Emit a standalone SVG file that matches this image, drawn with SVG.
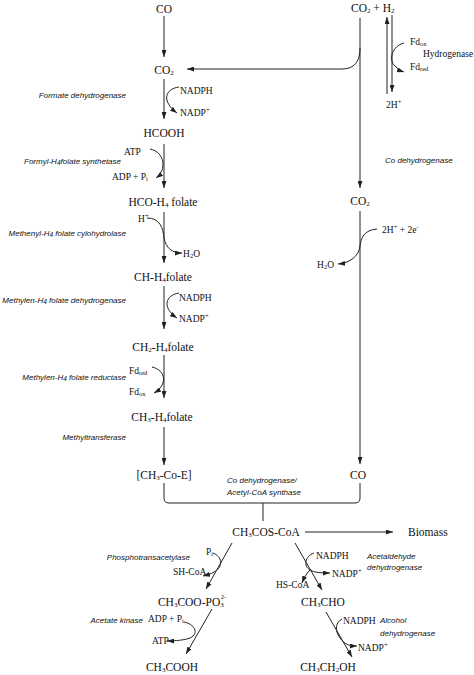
<svg xmlns="http://www.w3.org/2000/svg" width="474" height="675" viewBox="0 0 474 675">
<style>
text{font-family:"Liberation Serif","Times New Roman",serif;fill:#111}
.c{font-size:11.5px}
.f{font-size:9.5px}
.e{font-family:"Liberation Sans",Arial,sans-serif;font-style:italic;font-size:8px}
.s{font-size:7px}
.p{font-size:6.5px}
.k{fill:none;stroke:#222;stroke-width:1}
</style>
<defs>
<marker id="a" markerUnits="userSpaceOnUse" markerWidth="7" markerHeight="5" refX="7" refY="2.5" orient="auto">
<path d="M0,0 L7,2.5 L0,5 z" fill="#222"/>
</marker>
</defs>
<rect width="474" height="675" fill="#fff"/>
<g id="connectors" class="k" marker-end="url(#a)">
<path d="M164,16 L164,57"/>
<path d="M164,79 L164,119"/>
<path d="M179,87 C165,89 161,101 177,113"/>
<path d="M164,144 L164,188"/>
<path d="M150,149 C165,152 167,170 156,178"/>
<path d="M164,212 L164,263"/>
<path d="M147,218 C160,218 163,228 164,238 C166,248 172,253 182,253"/>
<path d="M164,286 L164,329"/>
<path d="M179,293 C166,295 161,307 177,318"/>
<path d="M164,355 L164,398"/>
<path d="M152,367 C166,370 168,385 154,393"/>
<path d="M164,427 L164,465"/>
<path d="M360,18 L360,188"/>
<path d="M360,48 C360,62 354,69 342,69 L187,69"/>
<path d="M387,94 L387,17"/>
<path d="M392,15 L392,92"/>
<path d="M404,43 C392,46 388,60 395,66 C398,69 401,71 404,72"/>
<path d="M360,211 L360,464"/>
<path d="M377,229 C364,230 361,238 360,246 C359,256 350,263 338,264"/>
<path d="M164,483 L164,498 Q164,503 169,503 L355,503 Q360,503 360,498 L360,483" marker-end="none"/>
<path d="M263,503 L263,521" marker-end="none"/>
<path d="M305,532 L393,532"/>
<path d="M232,543 L206,589"/>
<path d="M213,553 C222,556 224,567 214,572 C211,574 207,575 203,576"/>
<path d="M212,609 L186,654"/>
<path d="M184,622 C194,624 200,633 190,638 C185,640 175,641 167,641"/>
<path d="M295,543 L322,590"/>
<path d="M314,553 C305,556 303,566 310,570 C315,573 322,573 330,573"/>
<path d="M310,570 C306,574 304,578 302,583"/>
<path d="M326,612 L352,657"/>
<path d="M342,619 C336,622 334,630 340,638 C345,645 350,646 357,646"/>
</g>
<g id="n-co"><text class="c" x="164" y="13" text-anchor="middle">CO</text></g>
<g id="n-co2"><text class="c" x="164" y="74" text-anchor="middle">CO<tspan class="s" dy="1">2</tspan></text></g>
<g id="n-fdh">
<text class="e" x="126" y="98" text-anchor="end">Formate dehydrogenase</text>
<text class="f" x="180" y="94">NADPH</text>
<text class="f" x="180" y="116">NADP<tspan class="p" dy="-4">+</tspan></text>
</g>
<g id="n-hcooh"><text class="c" x="164" y="137" text-anchor="middle">HCOOH</text></g>
<g id="n-fths">
<text class="e" x="121" y="164" text-anchor="end">Formyl-H<tspan class="p" dy="1">4</tspan><tspan dy="-1">folate synthetase</tspan></text>
<text class="f" x="124" y="155">ATP</text>
<text class="f" x="112" y="180">ADP + P<tspan class="p" dy="1">i</tspan></text>
</g>
<g id="n-hco"><text class="c" x="163" y="206" text-anchor="middle">HCO-H<tspan class="s" dy="1">4</tspan><tspan dy="-1"> folate</tspan></text></g>
<g id="n-mch">
<text class="e" x="126" y="236" text-anchor="end">Methenyl-H<tspan class="p" dy="1">4</tspan><tspan dy="-1"> folate cylohydrolase</tspan></text>
<text class="f" x="138" y="222">H<tspan class="p" dy="-4">+</tspan></text>
<text class="f" x="183" y="257">H<tspan class="p" dy="1">2</tspan><tspan dy="-1">O</tspan></text>
</g>
<g id="n-ch"><text class="c" x="163" y="281" text-anchor="middle">CH-H<tspan class="s" dy="1">4</tspan><tspan dy="-1">folate</tspan></text></g>
<g id="n-mtd">
<text class="e" x="126" y="303" text-anchor="end">Methylen-H<tspan class="p" dy="1">4</tspan><tspan dy="-1"> folate dehydrogenase</tspan></text>
<text class="f" x="179" y="301">NADPH</text>
<text class="f" x="179" y="322">NADP<tspan class="p" dy="-4">+</tspan></text>
</g>
<g id="n-ch2"><text class="c" x="163" y="351" text-anchor="middle">CH<tspan class="s" dy="1">2</tspan><tspan dy="-1">-H</tspan><tspan class="s" dy="1">4</tspan><tspan dy="-1">folate</tspan></text></g>
<g id="n-mtr">
<text class="e" x="126" y="380" text-anchor="end">Methylen-H<tspan class="p" dy="1">4</tspan><tspan dy="-1"> folate reductase</tspan></text>
<text class="f" x="129" y="374">Fd<tspan class="p" dy="1">red</tspan></text>
<text class="f" x="129" y="395">Fd<tspan class="p" dy="1">ox</tspan></text>
</g>
<g id="n-ch3"><text class="c" x="162" y="421" text-anchor="middle">CH<tspan class="s" dy="1">3</tspan><tspan dy="-1">-H</tspan><tspan class="s" dy="1">4</tspan><tspan dy="-1">folate</tspan></text></g>
<g id="n-mt"><text class="e" x="126" y="440" text-anchor="end">Methyltransferase</text></g>
<g id="n-coe"><text class="c" x="164" y="479" text-anchor="middle">[CH<tspan class="s" dy="1">3</tspan><tspan dy="-1">-Co-E]</tspan></text></g>
<g id="n-co2h2"><text class="c" x="351" y="12">CO<tspan class="s" dy="1">2</tspan><tspan dy="-1"> + H</tspan><tspan class="s" dy="1">2</tspan></text></g>
<g id="n-hyd">
<text class="f" x="410" y="45">Fd<tspan class="p" dy="1">ox</tspan></text>
<text class="f" x="423" y="57" font-size="10px">Hydrogenase</text>
<text class="f" x="410" y="70">Fd<tspan class="p" dy="1">red</tspan></text>
<text class="f" x="386" y="108">2H<tspan class="p" dy="-4">+</tspan></text>
</g>
<g id="n-codh"><text class="e" x="385" y="163">Co dehydrogenase</text></g>
<g id="n-co2r"><text class="c" x="360" y="205" text-anchor="middle">CO<tspan class="s" dy="1">2</tspan></text></g>
<g id="n-h2o">
<text class="f" x="382" y="233">2H<tspan class="p" dy="-4">+</tspan><tspan dy="4"> + 2e</tspan><tspan class="p" dy="-4">-</tspan></text>
<text class="f" x="317" y="268">H<tspan class="p" dy="1">2</tspan><tspan dy="-1">O</tspan></text>
</g>
<g id="n-cor"><text class="c" x="358" y="479" text-anchor="middle">CO</text></g>
<g id="n-acs">
<text class="e" x="227" y="483">Co dehydrogenase/</text>
<text class="e" x="227" y="495">Acetyl-CoA synthase</text>
</g>
<g id="n-accoa"><text class="c" x="266" y="536" text-anchor="middle">CH<tspan class="s" dy="1">3</tspan><tspan dy="-1">COS-CoA</tspan></text></g>
<g id="n-bio"><text class="c" x="408" y="536">Biomass</text></g>
<g id="n-pta">
<text class="e" x="190" y="560" text-anchor="end">Phosphotransacetylase</text>
<text class="f" x="206" y="555">P<tspan class="p" dy="1">i</tspan></text>
<text class="f" x="173" y="575">SH-CoA</text>
</g>
<g id="n-acp"><text class="c" x="192" y="606" text-anchor="middle">CH<tspan class="s" dy="1">3</tspan><tspan dy="-1">COO-PO</tspan><tspan class="s" dy="1">3</tspan><tspan class="p" dx="-3" dy="-8">2-</tspan></text></g>
<g id="n-ack">
<text class="e" x="143" y="623" text-anchor="end">Acetate kinase</text>
<text class="f" x="148" y="622">ADP + P<tspan class="p" dy="1">i</tspan></text>
<text class="f" x="152" y="644">ATP</text>
</g>
<g id="n-ac"><text class="c" x="172" y="671" text-anchor="middle">CH<tspan class="s" dy="1">3</tspan><tspan dy="-1">COOH</tspan></text></g>
<g id="n-ald">
<text class="f" x="316" y="559">NADPH</text>
<text class="f" x="332" y="577">NADP<tspan class="p" dy="-4">+</tspan></text>
<text class="f" x="276" y="588">HS-CoA</text>
<text class="e" x="367" y="559">Acetaldehyde</text>
<text class="e" x="367" y="570">dehydrogenase</text>
</g>
<g id="n-acal"><text class="c" x="323" y="606" text-anchor="middle">CH<tspan class="s" dy="1">3</tspan><tspan dy="-1">CHO</tspan></text></g>
<g id="n-adh">
<text class="f" x="343" y="624">NADPH</text>
<text class="f" x="358" y="651">NADP<tspan class="p" dy="-4">+</tspan></text>
<text class="e" x="380" y="623">Alcohol</text>
<text class="e" x="380" y="636">dehydrogenase</text>
</g>
<g id="n-eth"><text class="c" x="328" y="671" text-anchor="middle">CH<tspan class="s" dy="1">3</tspan><tspan dy="-1">CH</tspan><tspan class="s" dy="1">2</tspan><tspan dy="-1">OH</tspan></text></g>
</svg>
